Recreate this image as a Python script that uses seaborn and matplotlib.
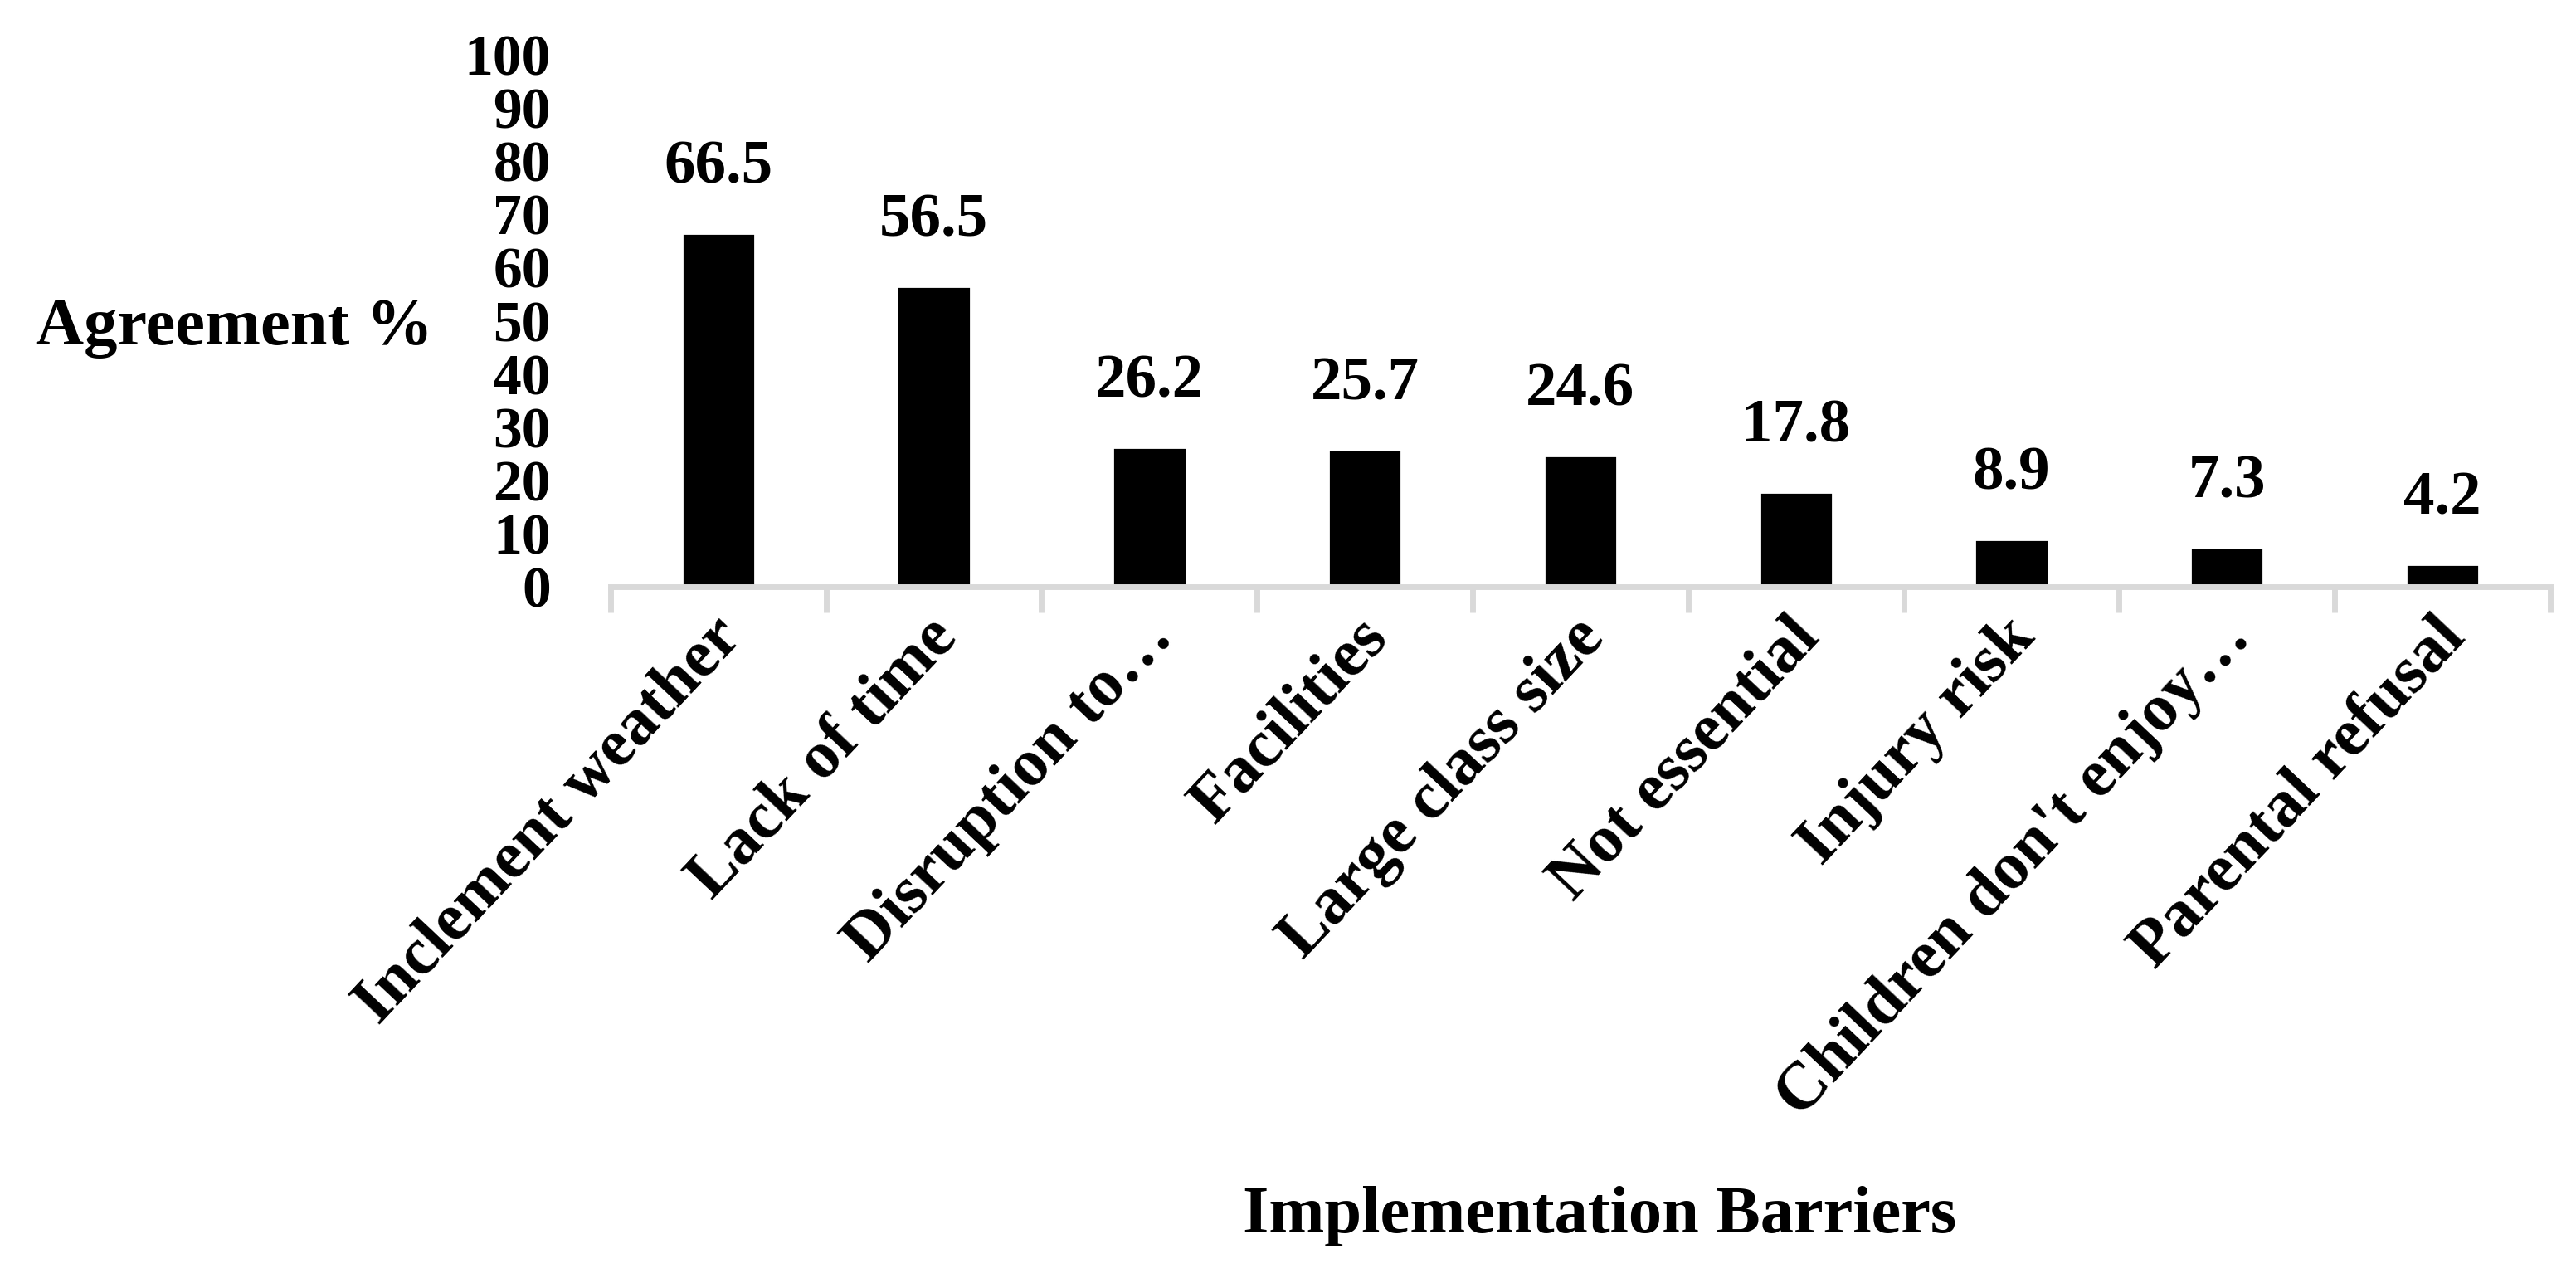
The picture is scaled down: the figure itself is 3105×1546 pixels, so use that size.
import matplotlib
matplotlib.use("Agg")
import matplotlib.pyplot as plt
import matplotlib.transforms as mtransforms
import seaborn as sns
import pandas as pd

# Chart data
barriers = ["Inclement weather", "Lack of time", "Disruption to…", "Facilities",
            "Large class size", "Not essential", "Injury risk",
            "Children don't enjoy…", "Parental refusal"]
agreement = [66.5, 56.5, 26.2, 25.7, 24.6, 17.8, 8.9, 7.3, 4.2]
y_ticks = [0, 10, 20, 30, 40, 50, 60, 70, 80, 90, 100]

sns.set_style("white")
plt.rcParams["font.family"] = ["Liberation Serif", "DejaVu Serif"]
plt.rcParams["font.weight"] = "bold"
plt.rcParams["text.color"] = "black"
plt.rcParams["xtick.color"] = "black"
plt.rcParams["ytick.color"] = "black"

df = pd.DataFrame({"barrier": barriers, "agreement": agreement})

fig = plt.figure(figsize=(15.525, 7.73), dpi=200)
ax = fig.add_axes([0.237, 0.543, 0.753, 0.414])

sns.barplot(data=df, x="barrier", y="agreement", color="black",
            saturation=1, width=0.34, ax=ax)

ax.set_xlim(-0.5, len(barriers) - 0.5)
ax.set_ylim(0, 100)
ax.set_yticks(y_ticks)
ax.set_xlabel("")
ax.set_ylabel("")

# Axis styling: only a light grey baseline with category separators
for side in ["left", "top", "right"]:
    ax.spines[side].set_visible(False)
ax.spines["bottom"].set_color("#d9d9d9")
ax.spines["bottom"].set_linewidth(2.5)

ax.set_xticks([i - 0.5 for i in range(len(barriers) + 1)], minor=True)
ax.tick_params(axis="x", which="minor", bottom=True, length=11, width=2.5,
               color="#d9d9d9", direction="out")
ax.tick_params(axis="x", which="major", bottom=True, length=0, pad=18,
               labelsize=29, labelcolor="black")
ax.tick_params(axis="y", length=0, pad=26, labelsize=25, labelcolor="black")

shift = mtransforms.ScaledTranslation(0.08, 0, fig.dpi_scale_trans)
for lbl in ax.get_xticklabels():
    lbl.set_rotation(46.7)
    lbl.set_ha("right")
    lbl.set_va("center")
    lbl.set_rotation_mode("anchor")
    lbl.set_transform(lbl.get_transform() + shift)

ax.bar_label(ax.containers[0], fmt="%.1f", padding=16, fontsize=27,
             fontweight="bold", color="black")

fig.text(0.014, 0.744, "Agreement %", fontsize=29, ha="left", va="center")
fig.text(0.621, 0.052, "Implementation Barriers", fontsize=29,
         ha="center", va="center")

fig.savefig("out.png", dpi=200)
plt.close(fig)
